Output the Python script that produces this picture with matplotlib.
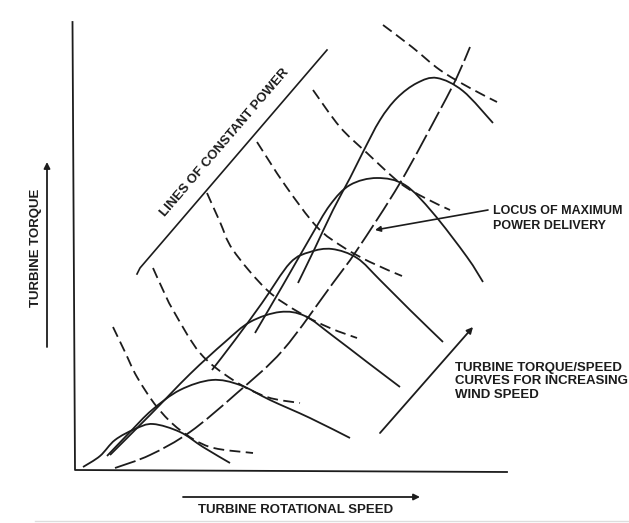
import numpy as np
import matplotlib
matplotlib.use('Agg')
import matplotlib.pyplot as plt
from matplotlib.path import Path
from matplotlib.patches import PathPatch

# torque/speed curves for increasing wind speed (speed, torque in drawing units)
wind1_speed = [8, 25, 40, 60, 78, 105, 128, 155]
wind1_torque = [3, 14, 30, 41, 46, 38, 23, 7]
wind2_speed = [32, 55, 77, 105, 137, 165, 195, 235, 275]
wind2_torque = [14, 38, 60, 80, 90, 85, 70, 52, 32]
wind3_speed = [35, 75, 115, 150, 175, 205, 230, 258, 292, 325]
wind3_torque = [15, 55, 96, 128, 148, 158, 154, 134, 108, 83]
wind4_speed = [137, 160, 187, 215, 235, 257, 282, 305, 335, 368]
wind4_torque = [100, 130, 167, 207, 218, 221, 212, 190, 160, 128]
wind5_speed = [180, 208, 235, 255, 275, 302, 330, 358, 392, 408]
wind5_torque = [137, 185, 232, 265, 285, 292, 285, 257, 213, 188]
wind6_speed = [223, 240, 258, 275, 288, 305, 322, 342, 362, 388, 418]
wind6_torque = [187, 222, 260, 292, 318, 350, 372, 387, 392, 379, 347]

# locus of maximum power delivery
locus_speed = [40, 75, 115, 162, 208, 258, 282, 325, 365, 382, 395]
locus_torque = [2, 15, 38, 77, 120, 187, 220, 287, 360, 393, 423]

# lines of constant power
power1_speed = [38, 50, 62, 82, 105, 135, 178]
power1_torque = [143, 118, 93, 63, 40, 23, 17]
power2_speed = [78, 88, 98, 125, 158, 192, 225]
power2_torque = [202, 180, 160, 117, 90, 73, 67]
power3_speed = [132, 145, 158, 192, 225, 255, 282]
power3_torque = [277, 248, 220, 180, 157, 142, 132]
power4_speed = [182, 210, 242, 268, 295, 327]
power4_torque = [328, 285, 243, 223, 208, 194]
power5_speed = [238, 265, 292, 325, 350, 375]
power5_torque = [380, 343, 317, 287, 272, 260]
power6_speed = [308, 337, 365, 395, 422]
power6_torque = [445, 423, 400, 382, 368]

ink = '#1c1c1c'
lw = 1.3


def smooth(xs, ys):
    # catmull-rom through the traced points, drawn as bezier segments
    p = np.column_stack([xs, ys]).astype(float)
    n = len(p)
    verts = [p[0]]
    codes = [Path.MOVETO]
    for i in range(n - 1):
        p0 = p[max(i - 1, 0)]
        p1 = p[i]
        p2 = p[i + 1]
        p3 = p[min(i + 2, n - 1)]
        verts += [p1 + (p2 - p0) / 6, p2 - (p3 - p1) / 6, p2]
        codes += [Path.CURVE4] * 3
    return Path(verts, codes)


def curve(ax, xs, ys, ls='-'):
    ax.add_patch(PathPatch(smooth(xs, ys), fill=False, ec=ink, lw=lw,
                           ls=ls, capstyle='butt'))


fig = plt.figure(figsize=(6.29, 5.23), dpi=100)
ax = fig.add_axes([0, 0, 1, 1])
ax.set_xlim(-75, 554)
ax.set_ylim(-53, 470)
ax.axis('off')

# axes of the sketch
ax.plot([-2.5, 0, 432], [448, 0, -2], color=ink, lw=1.3)
ax.plot([-40, 554], [-51, -51], color='#dddddd', lw=1)

for xs, ys in [(wind1_speed, wind1_torque), (wind2_speed, wind2_torque),
               (wind3_speed, wind3_torque), (wind4_speed, wind4_torque),
               (wind5_speed, wind5_torque), (wind6_speed, wind6_torque)]:
    curve(ax, xs, ys)

for xs, ys in [(power1_speed, power1_torque), (power2_speed, power2_torque),
               (power3_speed, power3_torque), (power4_speed, power4_torque),
               (power5_speed, power5_torque), (power6_speed, power6_torque)]:
    curve(ax, xs, ys, ls=(0, (6, 3)))

curve(ax, locus_speed, locus_torque, ls=(0, (12, 2.5)))

font = dict(family='Liberation Sans', weight='bold', color=ink)
arrow = dict(arrowstyle='-|>', color=ink, lw=1.3, mutation_scale=9,
             shrinkA=0, shrinkB=0)

# axis labels with arrows
ax.annotate('', xy=(-28, 308), xytext=(-28, 123), arrowprops=arrow)
ax.text(-39, 222, 'TURBINE TORQUE', rotation=90, ha='center', va='center',
        fontsize=9.5, **font)
ax.annotate('', xy=(345, -27), xytext=(108, -27), arrowprops=arrow)
ax.text(221, -40, 'TURBINE ROTATIONAL SPEED', ha='center', va='center',
        fontsize=9.5, **font)

# bracket for constant power lines
ax.plot([62, 65, 252], [196, 202, 420], color=ink, lw=1.2)
ax.text(150, 327, 'LINES OF CONSTANT POWER', rotation=49.4,
        rotation_mode='anchor', ha='center', va='center', fontsize=9.5, **font)

# locus label
ax.annotate('', xy=(300, 240), xytext=(413, 260),
            arrowprops=dict(arrowstyle='-|>', color=ink, lw=1.2,
                            mutation_scale=8, shrinkA=0, shrinkB=0))
ax.text(418, 251.5, 'LOCUS OF MAXIMUM\nPOWER DELIVERY', ha='left', va='center',
        fontsize=9, linespacing=1.35, **font)

# wind speed label
ax.annotate('', xy=(398, 143), xytext=(305, 37), arrowprops=arrow)
ax.text(380, 88.5, 'TURBINE TORQUE/SPEED\nCURVES FOR INCREASING\nWIND SPEED',
        ha='left', va='center', fontsize=9.5, linespacing=1.2, **font)

fig.savefig('out.png', dpi=100)
